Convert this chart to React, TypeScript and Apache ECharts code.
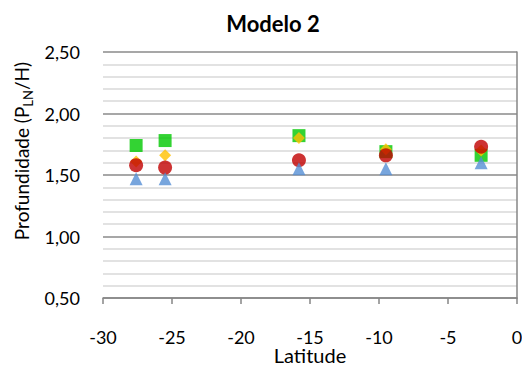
import React, { useEffect, useRef } from "react";
import * as echarts from "echarts";

const latitudes = [-27.6, -25.5, -15.8, -9.5, -2.6];
const greenValues = [1.74, 1.78, 1.82, 1.69, 1.66];
const orangeValues = [1.61, 1.66, 1.8, 1.71, 1.7];
const redValues = [1.58, 1.56, 1.62, 1.66, 1.73];
const blueValues = [1.47, 1.47, 1.55, 1.55, 1.6];
const xTicks = [-30, -25, -20, -15, -10, -5, 0];

const FONT = "Lato, 'Open Sans', sans-serif";

function pairs(vals: number[]) {
  return latitudes.map((x, i) => [x, vals[i]]);
}

export default function App() {
  const ref = useRef<HTMLDivElement>(null);
  useEffect(() => {
    if (!ref.current) return;
    const chart = echarts.init(ref.current, null, { renderer: "svg" });
    chart.setOption({
      animation: false,
      backgroundColor: "#ffffff",
      title: {
        text: "Modelo 2",
        left: 268,
        textAlign: "center",
        top: 7,
        textStyle: { fontFamily: FONT, fontSize: 22, fontWeight: "bold", color: "#000" },
      },
      graphic: [
        {
          type: "text",
          x: 22,
          y: 151,
          rotation: Math.PI / 2,
          style: {
            text: "{n|Profundidade (P}{s|LN}{n|/H)}",
            align: "center",
            verticalAlign: "middle",
            fill: "#000",
            font: "19px " + FONT,
            rich: {
              n: { fontFamily: FONT, fontSize: 19, fill: "#000", lineHeight: 24, verticalAlign: "bottom", padding: [0, 0, 3, 0] },
              s: { fontFamily: FONT, fontSize: 13, fill: "#000", lineHeight: 24, verticalAlign: "bottom" },
            },
          },
        },
      ],
      grid: { left: 103, right: 5, top: 52, bottom: 69, outerBoundsMode: "none", containLabel: false },
      xAxis: {
        type: "value",
        min: xTicks[0],
        max: xTicks[xTicks.length - 1],
        interval: 5,
        name: "Latitude",
        nameLocation: "middle",
        nameGap: 47,
        nameMoveOverlap: false,
        nameTextStyle: { fontFamily: FONT, fontSize: 20, lineHeight: 20, color: "#000" },
        axisLine: { show: true, onZero: false, lineStyle: { color: "#868686", width: 1.5 } },
        axisTick: { show: true, inside: false, length: 6, lineStyle: { color: "#868686", width: 1.5 } },
        axisLabel: {
          fontFamily: FONT,
          fontSize: 18,
          lineHeight: 18,
          color: "#000",
          margin: 30,
          formatter: (v: number) => String(v),
        },
        splitLine: { show: false },
      },
      yAxis: [
        {
          type: "value",
          min: 0.5,
          max: 2.5,
          interval: 0.5,
          position: "left",
          axisLine: { show: false },
          axisTick: { show: false },
          axisLabel: {
            fontFamily: FONT,
            fontSize: 18,
            color: "#000",
            margin: 23,
            formatter: (v: number) => v.toFixed(2).replace(".", ","),
          },
          splitLine: { show: true, lineStyle: { color: "#8a8a8a", width: 1.5 } },
          minorTick: { show: false, splitNumber: 5 },
          minorSplitLine: { show: true, lineStyle: { color: "#d9d9d9", width: 1.5 } },
        },
        {
          type: "value",
          min: 0.5,
          max: 2.5,
          interval: 0.5,
          position: "right",
          axisLine: { show: true, lineStyle: { color: "#868686", width: 1.5 } },
          axisTick: { show: false },
          axisLabel: { show: false },
          splitLine: { show: false },
        },
      ],
      series: [
        {
          type: "scatter",
          data: pairs(greenValues),
          symbol: "rect",
          symbolSize: 13,
          itemStyle: { color: "#00c800" },
        },
        {
          type: "scatter",
          data: pairs(orangeValues),
          symbol: "diamond",
          symbolSize: 12,
          itemStyle: { color: "#ffc000" },
        },
        {
          type: "scatter",
          data: pairs(redValues),
          symbol: "circle",
          symbolSize: 14,
          itemStyle: { color: "#c00000" },
        },
        {
          type: "scatter",
          data: pairs(blueValues),
          symbol: "triangle",
          symbolSize: 13,
          itemStyle: { color: "#558ed5" },
        },
      ],
    });
    return () => chart.dispose();
  }, []);
  return <div ref={ref} style={{ width: 522, height: 367, position: "absolute", left: 0, top: 0 }} />;
}
